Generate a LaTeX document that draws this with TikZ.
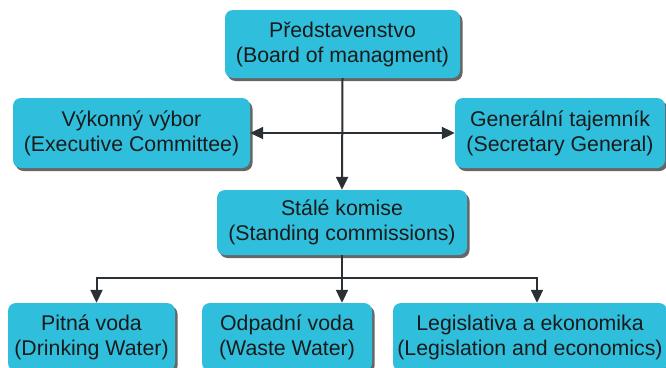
\documentclass[tikz,border=0pt]{standalone}
\usepackage{fontspec}
\setmainfont{Liberation Sans}
\usetikzlibrary{shadows,arrows.meta}
\definecolor{boxc}{HTML}{2FBFDD}
\definecolor{txtc}{HTML}{1A1A1A}
\definecolor{lnc}{HTML}{2A3034}
\begin{document}
\begin{tikzpicture}[x=1pt,y=-1pt,
  orgbox/.style={fill=boxc, rounded corners=8pt, align=center, inner sep=0pt,
    font=\fontsize{21.3}{25}\selectfont, text=txtc,
    drop shadow={shadow xshift=2.5pt, shadow yshift=-3pt, fill=black!75, opacity=0.8}},
  conn/.style={draw=lnc, line width=2pt},
  tip/.tip={Triangle[length=13pt,width=12pt]},
  arr/.style={conn, -tip},
  darr/.style={conn, tip-tip}]
\fill[white] (0,0) rectangle (666,367);
\useasboundingbox (0,0) rectangle (666,367);
\begin{scope}
\clip (0,0) rectangle (666,367);
\node[orgbox, minimum width=235pt, minimum height=68pt] (top) at (342.5,44) {Představenstvo\\(Board of managment)};
\node[orgbox, minimum width=237pt, minimum height=70pt] (vy) at (131.5,133) {Výkonný výbor\\(Executive Committee)};
\node[orgbox, minimum width=210pt, minimum height=70pt] (gen) at (560,133) {Generální tajemník\\(Secretary General)};
\node[orgbox, minimum width=250pt, minimum height=65pt] (st) at (342,222.5) {Stálé komise\\(Standing commissions)};
\node[orgbox, minimum width=167pt, minimum height=68pt] (pit) at (91.5,337) {Pitná voda\\(Drinking Water)};
\node[orgbox, minimum width=170pt, minimum height=68pt] (odp) at (287,337) {Odpadní voda\\(Waste Water)};
\node[orgbox, minimum width=274pt, minimum height=68pt] (leg) at (530,337) {Legislativa a ekonomika\\(Legislation and economics)};

\draw[darr] (vy.east) -- (gen.west);
\draw[arr] (top.south) -- (st.north);
\coordinate (j) at (st.south |- 0,278);
\draw[conn] (st.south) -- (j);
\draw[arr] (j) -| ([xshift=5pt]pit.north);
\draw[arr] (j) -- (odp.north -| j);
\draw[arr] (j) -| ([xshift=7pt]leg.north);
\end{scope}
\end{tikzpicture}
\end{document}
